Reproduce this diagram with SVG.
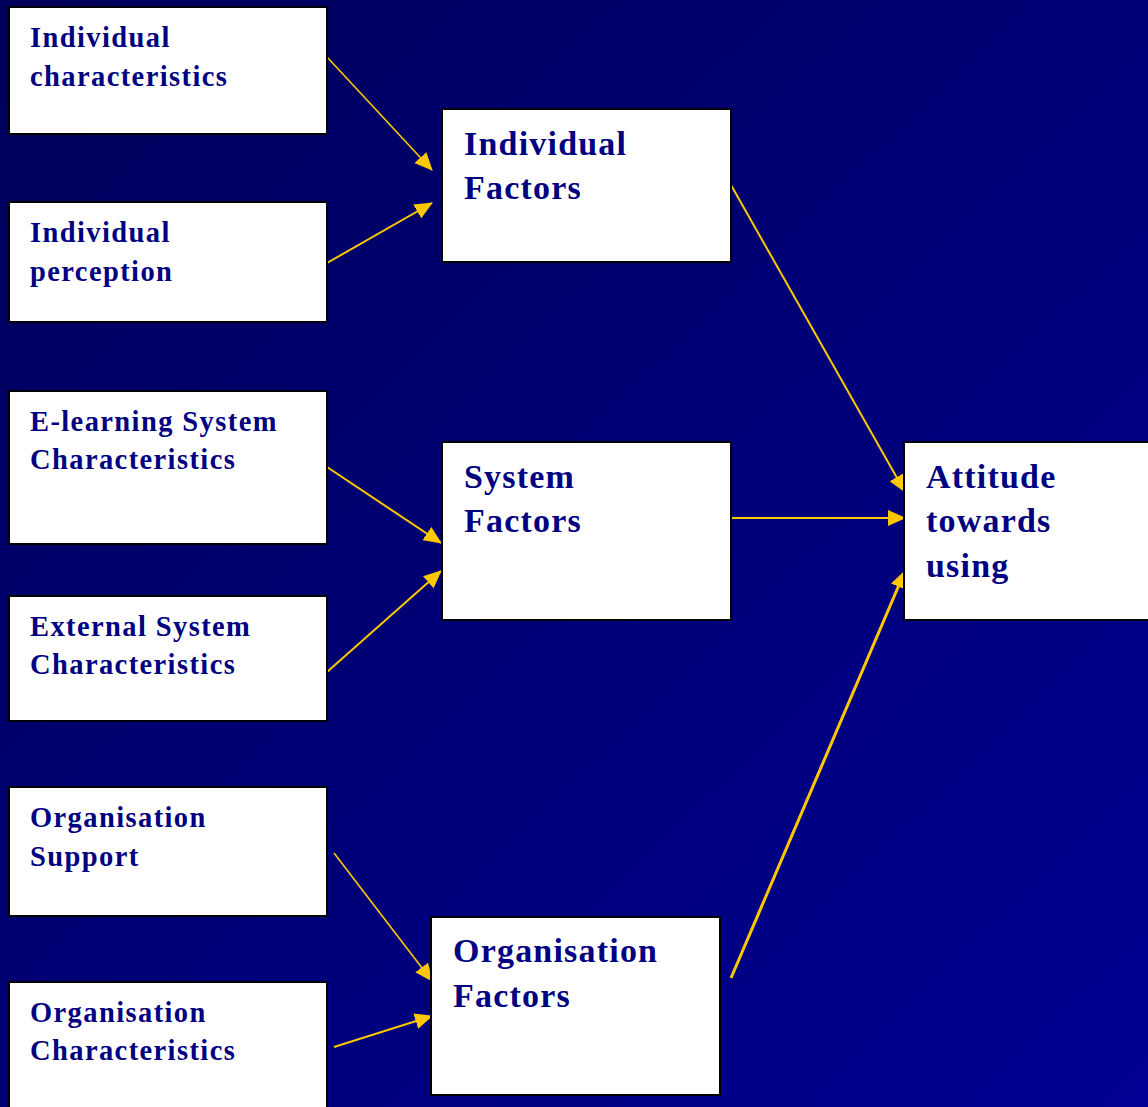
<svg xmlns="http://www.w3.org/2000/svg" width="1148" height="1107" viewBox="0 0 1148 1107">
  <defs>
    <linearGradient id="bg" x1="0" y1="0" x2="1" y2="1">
      <stop offset="0" stop-color="#00005A"/>
      <stop offset="1" stop-color="#000092"/>
    </linearGradient>
    <marker id="arrow" viewBox="0 0 18 16" refX="17" refY="8" markerWidth="18" markerHeight="16" markerUnits="userSpaceOnUse" orient="auto">
      <path d="M0,0 L18,8 L0,16 z" fill="#FFC800"/>
    </marker>
  </defs>
  <style>
    .box { fill: #FFFFFF; stroke: #000000; stroke-width: 2; }
    .t { font-family: "Liberation Serif", "Times New Roman", serif; font-weight: bold; fill: #000080; }
    .s { font-size: 28.5px; letter-spacing: 1.4px; }
    .b { font-size: 34px; letter-spacing: 1.2px; }
    .link { stroke: #FFC800; fill: none; marker-end: url(#arrow); }
  </style>

  <rect x="0" y="0" width="1148" height="1107" fill="url(#bg)"/>

  <g id="connectors">
    <line class="link" x1="327" y1="57" x2="432" y2="170" stroke-width="1.6"/>
    <line class="link" x1="327" y1="263" x2="432" y2="203" stroke-width="2"/>
    <line class="link" x1="327" y1="467" x2="441" y2="543" stroke-width="2"/>
    <line class="link" x1="327" y1="672" x2="441" y2="571" stroke-width="2"/>
    <line class="link" x1="334" y1="853" x2="432" y2="981" stroke-width="1.6"/>
    <line class="link" x1="334" y1="1047" x2="432" y2="1016" stroke-width="2"/>
    <line class="link" x1="731" y1="185" x2="905" y2="492" stroke-width="2"/>
    <line class="link" x1="731" y1="518" x2="905" y2="518" stroke-width="2"/>
    <line class="link" x1="731" y1="978" x2="905" y2="571" stroke-width="3"/>
  </g>

  <g id="individual-characteristics">
    <rect class="box" x="9" y="7" width="318" height="127"/>
    <text class="t s" x="30" y="47">Individual</text>
    <text class="t s" x="30" y="86">characteristics</text>
  </g>

  <g id="individual-perception">
    <rect class="box" x="9" y="202" width="318" height="120"/>
    <text class="t s" x="30" y="242">Individual</text>
    <text class="t s" x="30" y="281">perception</text>
  </g>

  <g id="elearning-system-characteristics">
    <rect class="box" x="9" y="391" width="318" height="153"/>
    <text class="t s" x="30" y="431">E-learning System</text>
    <text class="t s" x="30" y="469">Characteristics</text>
  </g>

  <g id="external-system-characteristics">
    <rect class="box" x="9" y="596" width="318" height="125"/>
    <text class="t s" x="30" y="636">External System</text>
    <text class="t s" x="30" y="674">Characteristics</text>
  </g>

  <g id="organisation-support">
    <rect class="box" x="9" y="787" width="318" height="129"/>
    <text class="t s" x="30" y="827">Organisation</text>
    <text class="t s" x="30" y="866">Support</text>
  </g>

  <g id="organisation-characteristics">
    <rect class="box" x="9" y="982" width="318" height="130"/>
    <text class="t s" x="30" y="1022">Organisation</text>
    <text class="t s" x="30" y="1060">Characteristics</text>
  </g>

  <g id="individual-factors">
    <rect class="box" x="442" y="109" width="289" height="153"/>
    <text class="t b" x="464" y="155">Individual</text>
    <text class="t b" x="464" y="199">Factors</text>
  </g>

  <g id="system-factors">
    <rect class="box" x="442" y="442" width="289" height="178"/>
    <text class="t b" x="464" y="488">System</text>
    <text class="t b" x="464" y="532">Factors</text>
  </g>

  <g id="organisation-factors">
    <rect class="box" x="431" y="917" width="289" height="178"/>
    <text class="t b" x="453" y="962">Organisation</text>
    <text class="t b" x="453" y="1007">Factors</text>
  </g>

  <g id="attitude-towards-using">
    <rect class="box" x="904" y="442" width="250" height="178"/>
    <text class="t b" x="926" y="488">Attitude</text>
    <text class="t b" x="926" y="532">towards</text>
    <text class="t b" x="926" y="577">using</text>
  </g>
</svg>
